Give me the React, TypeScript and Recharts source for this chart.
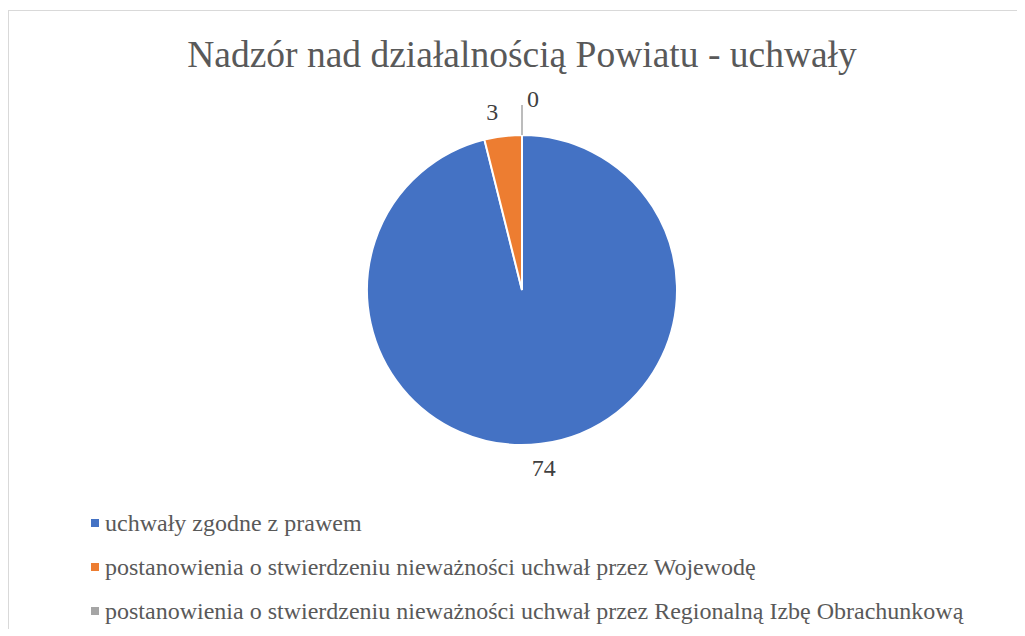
import { PieChart, Pie, Cell, Legend } from 'recharts';

const CATEGORIES = [
  'uchwały zgodne z prawem',
  'postanowienia o stwierdzeniu nieważności uchwał przez Wojewodę',
  'postanowienia o stwierdzeniu nieważności uchwał przez Regionalną Izbę Obrachunkową',
];
const VALUES = [74, 3, 0];
const COLORS = ['#4472C4', '#ED7D31', '#A5A5A5'];

const data = CATEGORIES.map((name, i) => ({ name, value: VALUES[i] }));

const FONT = '"Liberation Serif", "Times New Roman", serif';
const RADIAN = Math.PI / 180;

const renderLabel = (props: any) => {
  const { cx, cy, midAngle, outerRadius, value } = props;
  const cos = Math.cos(-midAngle * RADIAN);
  const sin = Math.sin(-midAngle * RADIAN);
  if (value === 0) {
    // leader line for the empty slice
    const x1 = cx + outerRadius * cos;
    const y1 = cy + outerRadius * sin;
    const x2 = cx + (outerRadius + 30) * cos;
    const y2 = cy + (outerRadius + 30) * sin;
    return (
      <g>
        <line x1={x1} y1={y1} x2={x2} y2={y2} stroke="#A6A6A6" strokeWidth={1.5} />
        <text x={x2 + 11} y={y2 - 6} fill="#404040" fontSize={24} fontFamily={FONT} textAnchor="middle" dominantBaseline="central">
          {value}
        </text>
      </g>
    );
  }
  const r = outerRadius + 24;
  return (
    <text x={cx + r * cos - (value < 10 ? 8 : 0)} y={cy + r * sin} fill="#404040" fontSize={24} fontFamily={FONT} textAnchor="middle" dominantBaseline="central">
      {value}
    </text>
  );
};

const LegendContent = () => (
  <div style={{ fontFamily: FONT, fontSize: 24, color: '#595959' }}>
    {CATEGORIES.map((name, i) => (
      <div key={name} style={{ display: 'flex', alignItems: 'center', height: 44 }}>
        <span style={{ width: 8, height: 8, background: COLORS[i], marginRight: 6, display: 'inline-block' }} />
        <span>{name}</span>
      </div>
    ))}
  </div>
);

export default function App() {
  return (
    <div
      style={{
        position: 'relative',
        marginTop: 2,
        width: 1009,
        height: 618,
        borderTop: '1px solid #D9D9D9',
        borderLeft: '1px solid #D9D9D9',
        background: '#fff',
      }}
    >
      <div
        style={{
          position: 'absolute',
          left: 13,
          top: 22,
          width: 1000,
          textAlign: 'center',
          fontFamily: FONT,
          fontSize: 37.5,
          color: '#595959',
        }}
      >
        Nadzór nad działalnością Powiatu - uchwały
      </div>
      <PieChart width={1009} height={618} margin={{ top: 0, right: 0, bottom: 0, left: 0 }}>
        <Pie
          data={data}
          dataKey="value"
          nameKey="name"
          cx={513}
          cy={279}
          outerRadius={155}
          startAngle={90}
          endAngle={-270}
          stroke="#fff"
          strokeWidth={2}
          label={renderLabel}
          labelLine={false}
          isAnimationActive={false}
        >
          {data.map((_, i) => (
            <Cell key={`cell-${i}`} fill={COLORS[i]} />
          ))}
        </Pie>
        <Legend
          content={<LegendContent />}
          wrapperStyle={{ left: 82, top: 490, width: 920, bottom: 'auto' }}
        />
      </PieChart>
    </div>
  );
}
